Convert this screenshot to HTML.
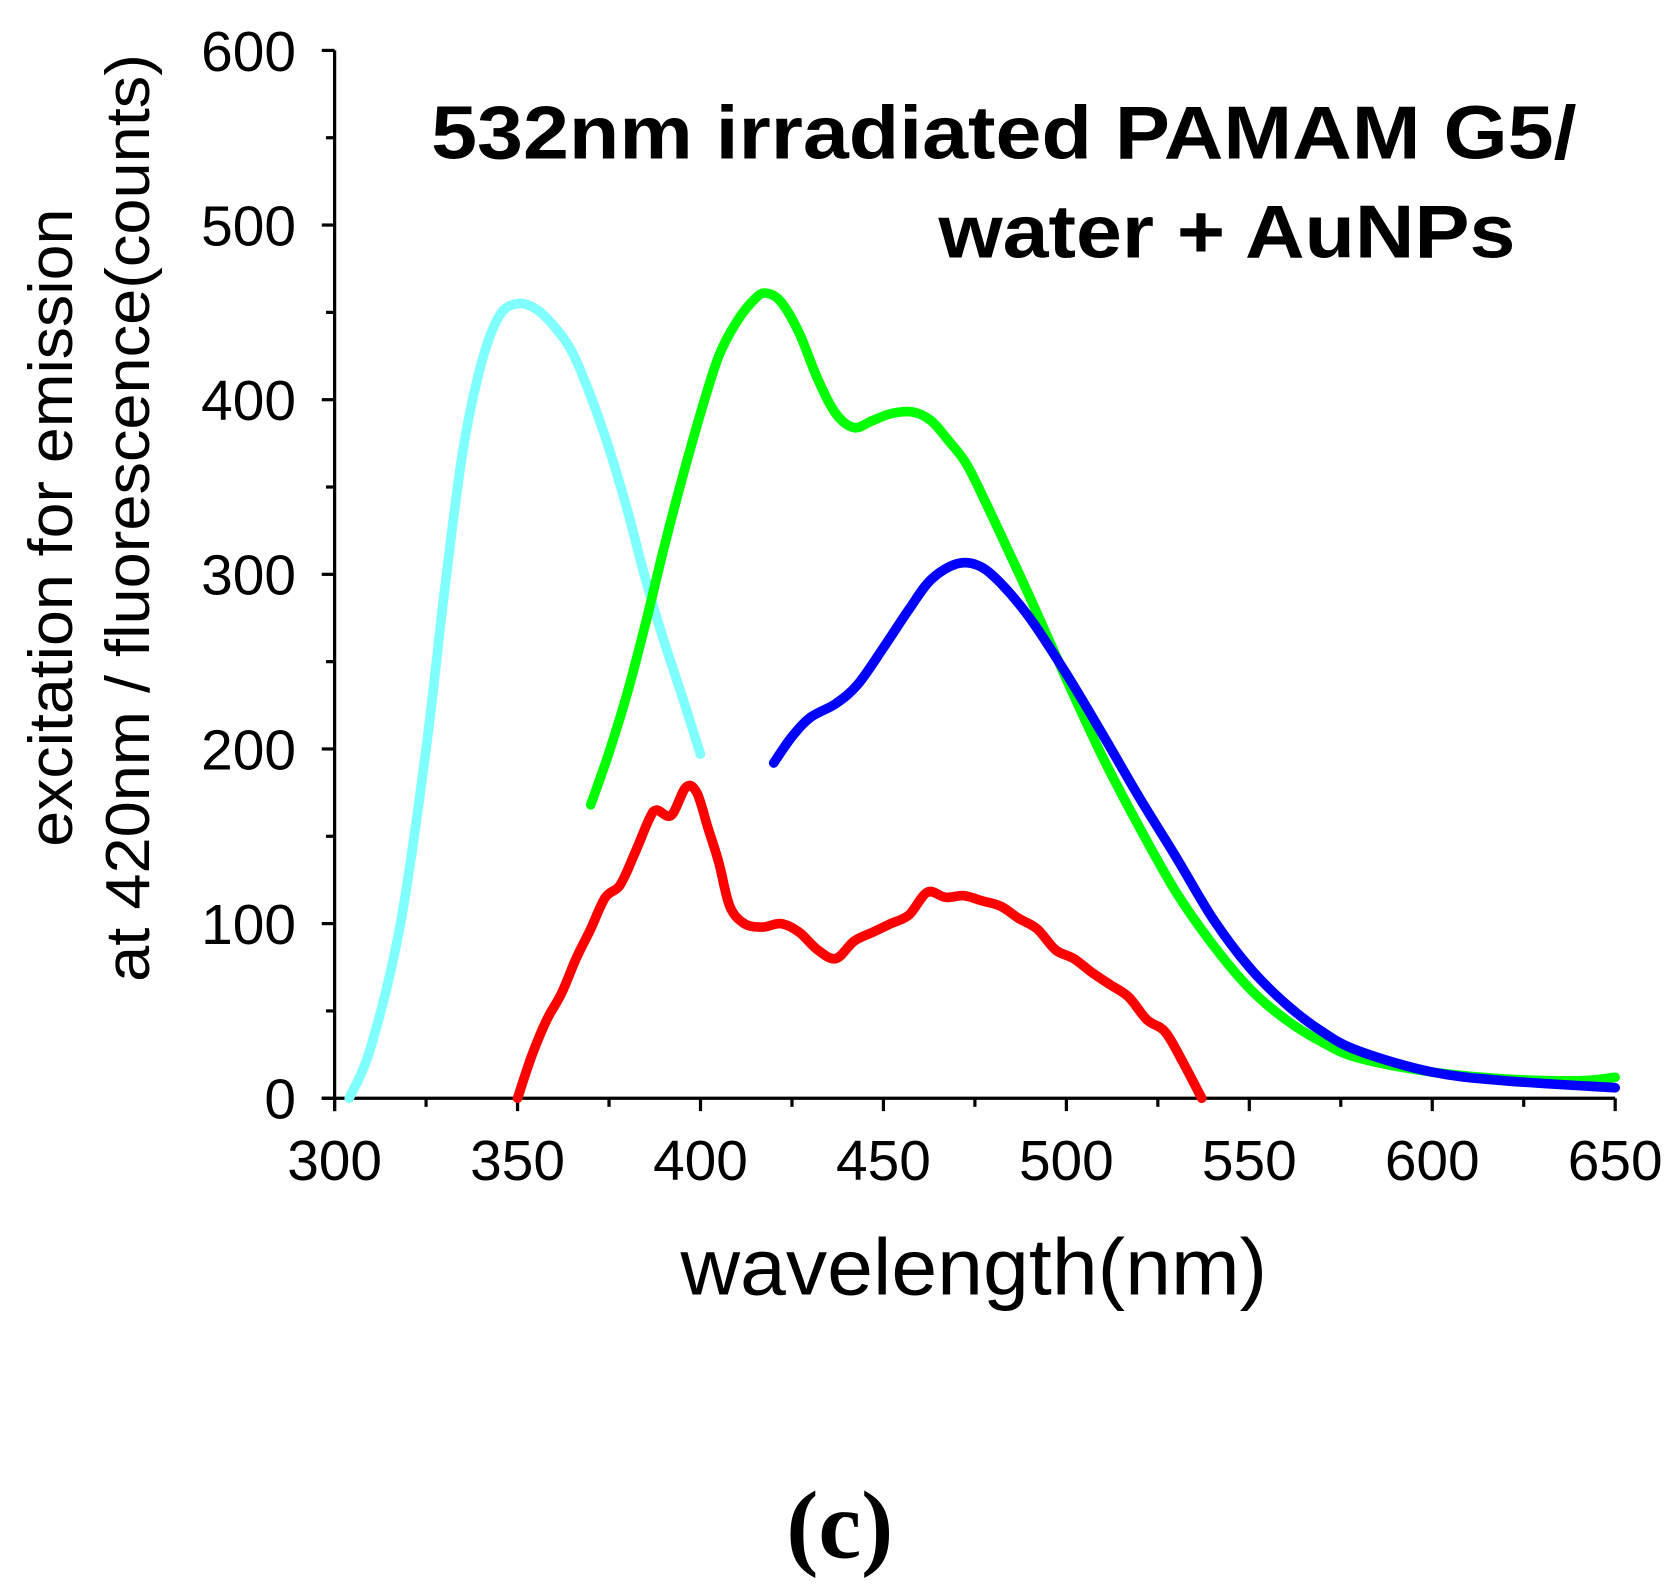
<!DOCTYPE html>
<html><head><meta charset="utf-8"><style>html,body{margin:0;padding:0;background:#fff}svg{display:block}</style></head>
<body>
<svg id="s" width="1679" height="1593" viewBox="0 0 1565.5 1485.3" xmlns="http://www.w3.org/2000/svg" font-family="Liberation Sans, sans-serif">
<rect width="1565.5" height="1485.3" fill="#fff"/>
<g id="ax" stroke="#000" stroke-width="3" fill="none"></g>
<g id="lines" fill="none" stroke-linejoin="round" stroke-linecap="round" stroke-width="9"></g>
<g id="lbl" font-size="53" fill="#000"></g>
<text x="402" y="148" font-size="70" font-weight="bold" textLength="1068" lengthAdjust="spacingAndGlyphs">532nm irradiated PAMAM G5/</text>
<text x="875" y="240" font-size="70" font-weight="bold" textLength="538" lengthAdjust="spacingAndGlyphs">water + AuNPs</text>
<text x="908" y="1207" font-size="74" text-anchor="middle" textLength="547" lengthAdjust="spacingAndGlyphs">wavelength(nm)</text>
<text transform="translate(67,492) rotate(-90)" font-size="58" text-anchor="middle" textLength="595" lengthAdjust="spacingAndGlyphs">excitation for emission</text>
<text transform="translate(139,483) rotate(-90)" font-size="58" text-anchor="middle" textLength="865" lengthAdjust="spacingAndGlyphs">at 420nm / fluorescence(counts)</text>
<text x="783" y="1452" font-size="90" font-weight="bold" text-anchor="middle" font-family="Liberation Serif, serif">(c)</text>
</svg>
<script>
var X=function(n){return 312+(n-300)*1194/350},Y=function(c){return 1024-c*977/600};
var ns="http://www.w3.org/2000/svg";
function el(p,t,a,txt){var e=document.createElementNS(ns,t);for(var k in a)e.setAttribute(k,a[k]);if(txt!=null)e.textContent=txt;p.appendChild(e);return e;}
var ax=document.getElementById('ax'),lb=document.getElementById('lbl');
el(ax,'line',{x1:312,y1:47,x2:312,y2:1036});
el(ax,'line',{x1:300,y1:1024,x2:1506,y2:1024});
for(var n=300;n<=650;n+=25){var M=n%50==0;el(ax,'line',{x1:X(n),y1:1024,x2:X(n),y2:M?1036:1032});if(M)el(lb,'text',{x:X(n),y:1100,'text-anchor':'middle'},n);}
for(var c=0;c<=600;c+=50){var M=c%100==0;el(ax,'line',{x1:M?300:304,y1:Y(c),x2:312,y2:Y(c)});if(M)el(lb,'text',{x:276,y:Y(c)+19,'text-anchor':'end'},c);}
var D={
"#80ffff":[[304,0],[310,30],[318,100],[325,200],[330,290],[335,370],[340,420],[345,448],[350,455],[355,452],[360,442],[365,427],[370,402],[375,372],[380,337],[385,297],[390,262],[395,230],[400,197]],
"#00ff00":[[370,168],[375,198],[380,232],[385,272],[390,315],[395,355],[400,392],[405,425],[410,445],[415,458],[418,461],[422,456],[427,438],[432,412],[437,392],[442,384],[447,388],[452,392],[458,393],[463,388],[468,376],[473,362],[480,332],[490,287],[500,240],[510,195],[520,155],[530,118],[540,88],[550,63],[560,45],[570,32],[580,23],[600,15],[620,11],[640,10],[650,12]],
"#0000ff":[[420,192],[425,207],[430,218],[437,226],[443,237],[450,258],[457,280],[463,297],[470,306],[476,305],[482,295],[490,275],[500,243],[510,208],[520,172],[530,138],[540,103],[550,75],[560,54],[570,38],[580,27],[600,15],[620,10],[650,6]],
"#ff0000":[[350,0],[354,25],[358,45],[362,60],[366,80],[370,97],[374,115],[378,122],[382,140],[386,160],[388,165],[392,162],[396,178],[399,175],[402,155],[405,135],[408,110],[412,100],[417,98],[422,100],[427,95],[432,85],[437,80],[442,90],[447,95],[452,100],[457,105],[462,118],[467,115],[472,116],[477,113],[482,110],[487,103],[492,97],[497,85],[502,80],[507,72],[512,65],[517,58],[522,45],[527,38],[532,20],[537,0]]};
function path(pts){var p=pts.map(function(q){return [X(q[0]),Y(q[1])]});var d='M'+p[0][0].toFixed(1)+','+p[0][1].toFixed(1);
for(var i=0;i<p.length-1;i++){var a=p[i-1]||p[i],b=p[i],c=p[i+1],e=p[i+2]||c;
var c1=[b[0]+(c[0]-a[0])/6,b[1]+(c[1]-a[1])/6],c2=[c[0]-(e[0]-b[0])/6,c[1]-(e[1]-b[1])/6];
d+=' C'+c1.map(function(v){return v.toFixed(1)})+' '+c2.map(function(v){return v.toFixed(1)})+' '+c[0].toFixed(1)+','+c[1].toFixed(1);}return d;}
var L=document.getElementById('lines');
for(var col in D){el(L,'path',{stroke:col,d:path(D[col])});}
</script>
</body></html>
